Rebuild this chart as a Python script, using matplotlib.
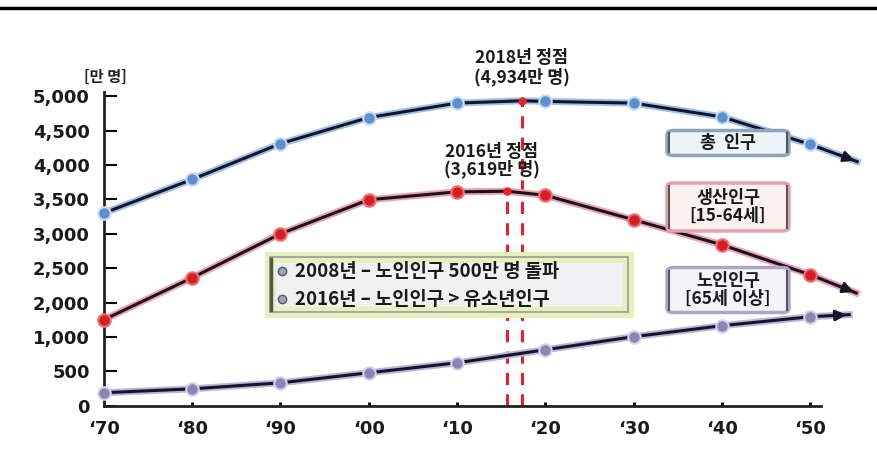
import numpy as np
import matplotlib
matplotlib.use("Agg")
import matplotlib.pyplot as plt
import matplotlib.patheffects as pe
from matplotlib.patches import FancyBboxPatch
from matplotlib.lines import Line2D

plt.rcParams['font.family'] = ['Noto Sans CJK KR', 'DejaVu Sans']

# data (만 명)
years = [1970, 1980, 1990, 2000, 2010, 2020, 2030, 2040, 2050]
total = [3300, 3790, 4310, 4690, 4900, 4925, 4900, 4700, 4300]
working = [1500, 2360, 3000, 3495, 3610, 3560, 3205, 2840, 2405]
elderly = [190, 247, 334, 480, 625, 815, 1010, 1330, 1590]
# where the arrows end
total_end = (2055.3, 4050)
working_end = (2055.2, 2140)
elderly_end = (2054.4, 1650)
# peaks
peak_total = (2017.4, 4934)
peak_working = (2015.7, 3619)

xtick_years = [1970, 1980, 1990, 2000, 2010, 2020, 2030, 2040, 2050]
xtick_labels = ['‘70', '‘80', '‘90', '‘00', '‘10', '‘20', '‘30', '‘40', '‘50']
ytick_vals = [0, 500, 1000, 2000, 2500, 3000, 3500, 4000, 4500, 5000]
ytick_labels = ['0', '500', '1,000', '2,000', '2,500', '3,000', '3,500', '4,000', '4,500', '5,000']

# broken y scale: every tick sits one step apart
scale_vals = ytick_vals + [5500]
scale_pos = list(range(len(scale_vals)))


def fwd(v):
    return np.interp(v, scale_vals, scale_pos)


def inv(p):
    return np.interp(p, scale_pos, scale_vals)


fig = plt.figure(figsize=(8.78, 4.73), dpi=100)
ax = fig.add_axes([0.118, 0.142, 0.817, 0.664])
ax.set_yscale('function', functions=(fwd, inv))
ax.set_xlim(1970, 2051.2)
ax.set_ylim(0, 5065)

for s in ['top', 'right']:
    ax.spines[s].set_visible(False)
for s in ['left', 'bottom']:
    ax.spines[s].set_linewidth(2)
    ax.spines[s].set_color('#222222')

ax.set_xticks(xtick_years)
ax.set_xticklabels(xtick_labels)
ax.set_yticks(ytick_vals)
ax.set_yticklabels(ytick_labels)
ax.minorticks_off()
ax.tick_params(axis='y', direction='in', length=9, width=1.5, pad=10)
ax.tick_params(axis='x', direction='in', length=3, width=2, pad=10)
for lab in ax.get_xticklabels() + ax.get_yticklabels():
    lab.set_fontfamily('DejaVu Sans')
    lab.set_fontweight('bold')
    lab.set_fontsize(13)
    lab.set_color('#1a1a1a')


def series(xs, ys, end, peak, glow, mcolor, medge):
    pts = sorted(list(zip(xs, ys)) + ([peak] if peak else []) + [end])
    lx = [p[0] for p in pts]
    ly = [p[1] for p in pts]
    effects = [pe.Stroke(linewidth=5, foreground=glow), pe.Normal()]
    ax.plot(lx, ly, color='#15152a', lw=2.2, clip_on=False, zorder=3,
            path_effects=effects)
    ax.plot(xs, ys, 'o', ms=9, mfc=mcolor, mec=medge, mew=1.5,
            clip_on=False, zorder=5)
    ax.annotate('', xy=end, xytext=(xs[-1] + 0.6 * (end[0] - xs[-1]),
                                     ys[-1] + 0.6 * (end[1] - ys[-1])),
                arrowprops=dict(arrowstyle='-|>', color='#15152a', lw=2,
                                mutation_scale=16),
                annotation_clip=False, zorder=4)


series(years, total, total_end, peak_total, '#9ec0e8', '#5b8fcf', '#c8dcf0')
series(years, working, working_end, peak_working, '#f2a0a8', '#d41e28', '#f07070')
series(years, elderly, elderly_end, None, '#b8b4dc', '#8a86b4', '#d4d2ea')

# peak dashed lines
for px, py in [peak_total, peak_working]:
    ax.plot([px, px], [0, py], color='#e8202a', lw=2.2, ls=(0, (4, 3)),
            zorder=2)
    ax.plot(px, py, 'o', ms=5, color='#e8202a', zorder=6)

# top rule
fig.add_artist(Line2D([0, 1], [0.983, 0.983], color='black', lw=2.5))

# unit
fig.text(105 / 878, 1 - 77 / 473, '[만 명]', ha='center', va='center',
         fontsize=11, fontweight='black', color='#222222')

# peak labels
fig.text(522 / 878, 1 - 58 / 473, '2018년 정점', ha='center', va='center',
         fontsize=12.5, fontweight='black', color='#1a1a1a')
fig.text(522 / 878, 1 - 77 / 473, '(4,934만 명)', ha='center', va='center',
         fontsize=12.5, fontweight='black', color='#1a1a1a')
fig.text(492 / 878, 1 - 152 / 473, '2016년 정점', ha='center', va='center',
         fontsize=12.5, fontweight='black', color='#1a1a1a')
fig.text(492 / 878, 1 - 169 / 473, '(3,619만 명)', ha='center', va='center',
         fontsize=12.5, fontweight='black', color='#1a1a1a')

# series label boxes
boxes = [
    (143, 25, '총  인구', '#eef3f8', '#8ea4bc'),
    (207, 48, '생산인구\n[15-64세]', '#fbf1f1', '#e4a2aa'),
    (290, 45, '노인인구\n[65세 이상]', '#f4f3f8', '#aaa6c8'),
]
for py, h, txt, fc, ec in boxes:
    box = FancyBboxPatch((667 / 878, 1 - (py + h / 2) / 473), 122 / 878,
                         h / 473, boxstyle='round,pad=0,rounding_size=0.008',
                         transform=fig.transFigure, fc=fc, ec=ec, lw=2.5,
                         zorder=7)
    fig.add_artist(box)
    for side in [669, 787]:
        fig.add_artist(Line2D([side / 878, side / 878],
                              [1 - (py + h / 2 - 3) / 473, 1 - (py - h / 2 + 3) / 473],
                              color='#555555', lw=1.5, zorder=8))
    fig.text(728 / 878, 1 - py / 473, txt, ha='center', va='center',
             fontsize=12.5, fontweight='black', color='#1a1a1a',
             linespacing=1.0, zorder=9)

# note box
glow = FancyBboxPatch((270 / 878, 1 - 312 / 473), 358 / 878, 55 / 473,
                      boxstyle='square,pad=0', transform=fig.transFigure,
                      fc='#f1f1f3', ec='#e6f0bc', lw=8, zorder=7)
fig.add_artist(glow)
edge = FancyBboxPatch((270 / 878, 1 - 312 / 473), 358 / 878, 55 / 473,
                      boxstyle='square,pad=0', transform=fig.transFigure,
                      fc='none', ec='#9a9a9a', lw=1.2, zorder=8)
fig.add_artist(edge)
fig.add_artist(Line2D([271 / 878, 271 / 878], [1 - 310 / 473, 1 - 259 / 473],
                      color='#555555', lw=2.5, zorder=9))
notes = ['2008년 – 노인인구 500만 명 돌파', '2016년 – 노인인구 > 유소년인구']
for i, note in enumerate(notes):
    yy = 1 - (271 + 28 * i) / 473
    fig.add_artist(Line2D([282 / 878], [yy], marker='o', ms=6, mfc='#9aa6b8',
                          mec='#4a5a70', mew=1, zorder=9))
    fig.text(295 / 878, yy, note, ha='left', va='center', fontsize=13.5,
             fontweight='black', color='#1a1a1a', zorder=9)

fig.savefig('out.png', dpi=100)
